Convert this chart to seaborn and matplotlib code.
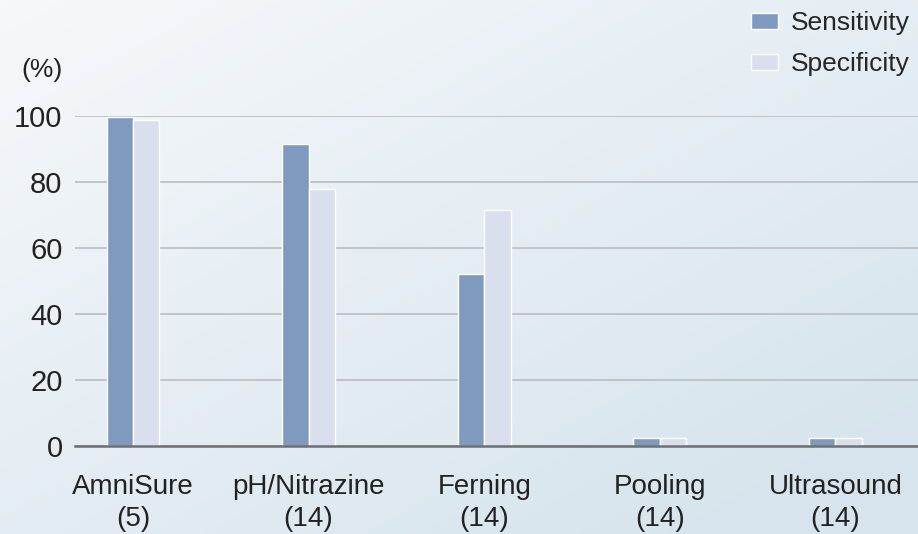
import numpy as np
import pandas as pd
import matplotlib
matplotlib.use("Agg")
import matplotlib.pyplot as plt
import seaborn as sns

# data
tests = ["AmniSure\n(5)", "pH/Nitrazine\n(14)", "Ferning\n(14)", "Pooling\n(14)", "Ultrasound\n(14)"]
sensitivity = [99.7, 91.5, 52.0, 2.3, 2.3]
specificity = [98.8, 78.0, 71.6, 2.3, 2.3]
y_ticks = [0, 20, 40, 60, 80, 100]

df = pd.DataFrame({
    "test": tests * 2,
    "value": sensitivity + specificity,
    "measure": ["Sensitivity"] * len(tests) + ["Specificity"] * len(tests),
})

sns.set_theme(style="white")
plt.rcParams["font.family"] = ["Liberation Sans", "DejaVu Sans"]

fig = plt.figure(figsize=(9.18, 5.34), dpi=100)

# soft blue-grey background gradient
bg = fig.add_axes([0, 0, 1, 1], zorder=-10)
xx, yy = np.meshgrid(np.linspace(0, 1, 200), np.linspace(0, 1, 200))
t = np.clip(0.55 * xx + 0.6 * yy, 0, 1)
c0 = np.array([0.965, 0.973, 0.984])
c1 = np.array([0.845, 0.898, 0.930])
img = c0[None, None, :] * (1 - t[..., None]) + c1[None, None, :] * t[..., None]
bg.imshow(img, aspect="auto", extent=[0, 1, 0, 1], origin="upper")
bg.axis("off")

ax = fig.add_axes([75 / 918, 88 / 534, 1 - 75 / 918, 330 / 534])
ax.patch.set_alpha(0)

sns.barplot(data=df, x="test", y="value", hue="measure",
            palette=["#8099bf", "#d9dfec"], saturation=1, width=0.3,
            edgecolor="white", linewidth=1, ax=ax, zorder=3)

ax.set_xlim(-0.33, 4.47)
ax.set_ylim(0, 100)
ax.set_yticks(y_ticks)
ax.yaxis.grid(True, color="#babdc2", linewidth=1.2, zorder=0)
ax.set_axisbelow(True)
for s in ["top", "right", "left"]:
    ax.spines[s].set_visible(False)
ax.spines["bottom"].set_color("#6d6f72")
ax.spines["bottom"].set_linewidth(1.8)
ax.spines["bottom"].set_zorder(4)

ax.tick_params(axis="y", length=0, pad=9, labelsize=21, labelcolor="#222222")
ax.tick_params(axis="x", length=0, pad=20, labelsize=20, labelcolor="#222222")
ax.set_xticks(range(len(tests)))
ax.set_xticklabels(tests, linespacing=1.3)
ax.set_xticks([-0.33], minor=True)
ax.tick_params(axis="x", which="minor", length=9, width=1.2, color="#6d6f72", direction="out")
ax.set_xlabel("")
ax.set_ylabel("")

fig.text(42 / 918, 1 - 70 / 534, "(%)", fontsize=19, ha="center", va="center", color="#222222")

ax.legend(loc="upper right", bbox_to_anchor=(1.003, 1.35), frameon=False,
          fontsize=19, handlelength=1.0, handleheight=0.55, handletextpad=0.5,
          labelspacing=0.65, borderaxespad=0)

fig.savefig("out.png", dpi=100)
